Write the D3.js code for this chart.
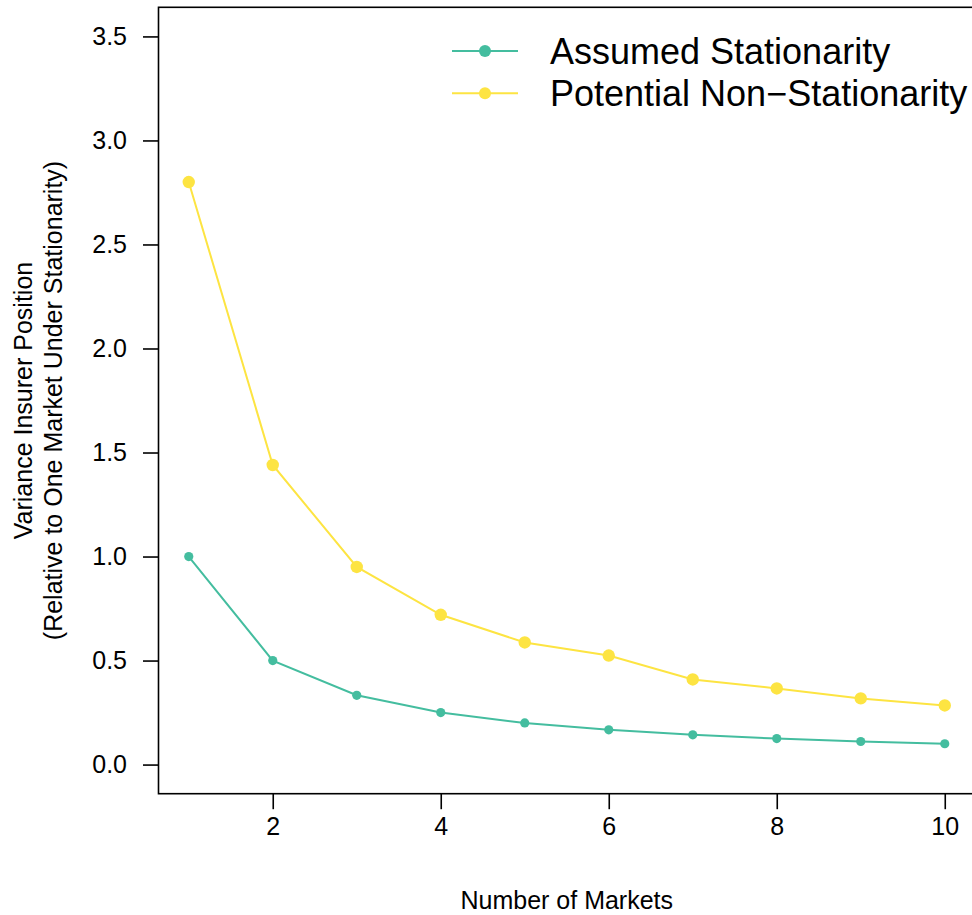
<!DOCTYPE html>
<html>
<head>
<meta charset="utf-8">
<script src="https://cdn.jsdelivr.net/npm/d3@7"></script>
<style>
  html, body { margin: 0; padding: 0; background: #ffffff; }
  svg { display: block; font-family: "Liberation Sans", Arial, Helvetica, sans-serif; }
</style>
</head>
<body>
<svg id="chart" width="972" height="915"></svg>
<script>
// Number of markets pooled by the insurer
const markets = [1, 2, 3, 4, 5, 6, 7, 8, 9, 10];
// Variance of the insurer position, relative to a single market under stationarity
const assumedStationarity = [1.00, 0.50, 0.333, 0.25, 0.20, 0.167, 0.143, 0.125, 0.111, 0.10];
const potentialNonStationarity = [2.80, 1.44, 0.95, 0.72, 0.587, 0.524, 0.409, 0.366, 0.318, 0.284];

const xTicks = [2, 4, 6, 8, 10];
const yTicks = [0.0, 0.5, 1.0, 1.5, 2.0, 2.5, 3.0, 3.5];

const seriesNames = ["Assumed Stationarity", "Potential Non\u2212Stationarity"];
const seriesColors = ["#44BD9F", "#FDE442"];

const svg = d3.select("#chart");

// Plot region (the right side runs past the page edge)
const plot = { left: 158.5, right: 975, top: 7.3, bottom: 793.7 };

const x = d3.scaleLinear().domain([0.64, 10.36]).range([plot.left, plot.right]);
const y = d3.scaleLinear().domain([-0.14, 3.64]).range([plot.bottom, plot.top]);

// Frame
svg.append("rect")
  .attr("x", plot.left).attr("y", plot.top)
  .attr("width", plot.right - plot.left).attr("height", plot.bottom - plot.top)
  .attr("fill", "none").attr("stroke", "#000").attr("stroke-width", 1.6);

// Axes
const xAxis = d3.axisBottom(x).tickValues(xTicks).tickSize(15.5).tickPadding(8)
  .tickFormat(d3.format("d"));
const gx = svg.append("g").attr("transform", `translate(0,${plot.bottom})`).call(xAxis);
gx.select(".domain").remove();
gx.selectAll(".tick line").attr("stroke", "#000").attr("stroke-width", 1.6);
gx.selectAll(".tick text").attr("font-size", 25).attr("fill", "#000")
  .attr("font-family", "Liberation Sans, Arial, sans-serif");

const yAxis = d3.axisLeft(y).tickValues(yTicks).tickSize(15.5).tickPadding(16)
  .tickFormat(d3.format(".1f"));
const gy = svg.append("g").attr("transform", `translate(${plot.left},0)`).call(yAxis);
gy.select(".domain").remove();
gy.selectAll(".tick line").attr("stroke", "#000").attr("stroke-width", 1.6);
gy.selectAll(".tick text").attr("font-size", 25).attr("fill", "#000")
  .attr("font-family", "Liberation Sans, Arial, sans-serif");

// Axis titles
svg.append("text")
  .attr("x", (plot.left + plot.right) / 2).attr("y", 909)
  .attr("text-anchor", "middle").attr("font-size", 25).attr("fill", "#000")
  .text("Number of Markets");

const yTitle = svg.append("g")
  .attr("transform", `translate(0,${(plot.top + plot.bottom) / 2}) rotate(-90)`);
yTitle.append("text").attr("x", 0).attr("y", 32)
  .attr("text-anchor", "middle").attr("font-size", 25).attr("fill", "#000")
  .text("Variance Insurer Position");
yTitle.append("text").attr("x", 0).attr("y", 62)
  .attr("text-anchor", "middle").attr("font-size", 25).attr("fill", "#000")
  .text("(Relative to One Market Under Stationarity)");

// Series
const series = [
  { name: seriesNames[0], values: assumedStationarity, color: seriesColors[0], r: 4.6 },
  { name: seriesNames[1], values: potentialNonStationarity, color: seriesColors[1], r: 6.2 }
];

const line = d3.line().x(d => x(d[0])).y(d => y(d[1]));

series.forEach(s => {
  const pts = markets.map((m, i) => [m, s.values[i]]);
  svg.append("path").datum(pts)
    .attr("d", line).attr("fill", "none")
    .attr("stroke", s.color).attr("stroke-width", 2);
  svg.append("g").selectAll("circle").data(pts).join("circle")
    .attr("cx", d => x(d[0])).attr("cy", d => y(d[1]))
    .attr("r", s.r).attr("fill", s.color);
});

// Legend
const legend = svg.append("g");
series.forEach((s, i) => {
  const ly = 51 + i * 42.3;
  legend.append("line")
    .attr("x1", 452).attr("x2", 518).attr("y1", ly).attr("y2", ly)
    .attr("stroke", s.color).attr("stroke-width", 2);
  legend.append("circle").attr("cx", 485).attr("cy", ly).attr("r", 6).attr("fill", s.color);
  legend.append("text")
    .attr("x", 550).attr("y", ly + 12.9)
    .attr("font-size", 36).attr("fill", "#000")
    .text(s.name);
});
</script>
</body>
</html>
